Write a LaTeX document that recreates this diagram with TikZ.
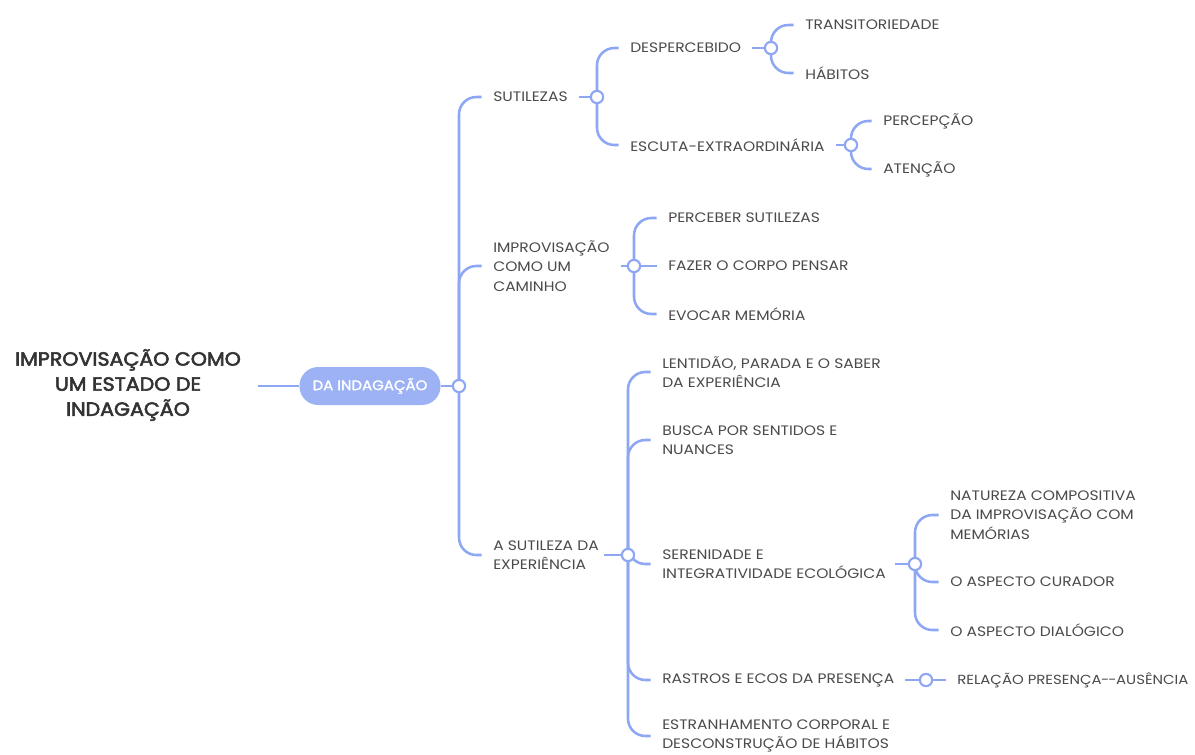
\documentclass[tikz,border=0pt]{standalone}
\usepackage{fontspec}
\setmainfont{Poppins}[FakeStretch=1.13]
\newfontfamily\rootf{Poppins}[FakeStretch=1.08,FakeBold=3]
\newfontfamily\pillf{Poppins}[FakeStretch=1.08,FakeBold=1.5]
\definecolor{ln}{HTML}{8EA7F4}
\definecolor{pillc}{HTML}{9DB2F5}
\definecolor{tx}{HTML}{4A4A4A}
\definecolor{rt}{HTML}{333333}
\begin{document}
\begin{tikzpicture}[x=0.75pt,y=-0.75pt,
 conn/.style={draw=ln,line width=1.9pt,rounded corners=13pt},
 cend/.style={shorten >=8.5pt},
 hub/.style={circle,draw=ln,fill=white,line width=1.6pt,minimum size=9.2pt,inner sep=0pt},
 leaf/.style={anchor=west,inner sep=0pt,text=tx,font=\fontsize{10.3}{14.6}\selectfont,align=left},
]
\useasboundingbox (0,0) rectangle (1195,754);
% root and pill
\node[inner sep=0pt,align=center,text=rt,font=\fontsize{14.3}{18.8}\selectfont\rootf] (root) at (128,385) {IMPROVISAÇÃO COMO\\UM ESTADO DE\\INDAGAÇÃO};
\node[fill=pillc,rounded corners=14pt,minimum width=105.75pt,minimum height=28.5pt,inner sep=0pt,text=white,font=\fontsize{10.4}{12}\selectfont\pillf] (pill) at (370,386) {DA INDAGAÇÃO};
% hubs
\coordinate (h0) at (459,386);
\coordinate (h1) at (597,97);
\coordinate (h2) at (771,48);
\coordinate (h3) at (851,145);
\coordinate (h4) at (634,266);
\coordinate (h5) at (628,555);
\coordinate (h6) at (915,564);
\coordinate (h7) at (926,680);
% texts
\node[leaf] (sut) at (493,97) {SUTILEZAS};
\node[leaf] (desp) at (630,48) {DESPERCEBIDO};
\node[leaf] (trans) at (805,25) {TRANSITORIEDADE};
\node[leaf] (hab) at (805,73) {HÁBITOS};
\node[leaf] (esc) at (630,145) {ESCUTA-EXTRAORDINÁRIA};
\node[leaf] (perc) at (883,121) {PERCEPÇÃO};
\node[leaf] (aten) at (883,169) {ATENÇÃO};
\node[leaf] (imp) at (493,266) {IMPROVISAÇÃO\\COMO UM\\CAMINHO};
\node[leaf] (pcs) at (668,218) {PERCEBER SUTILEZAS};
\node[leaf] (faz) at (668,266) {FAZER O CORPO PENSAR};
\node[leaf] (evo) at (668,314) {EVOCAR MEMÓRIA};
\node[leaf] (asu) at (493,555) {A SUTILEZA DA\\EXPERIÊNCIA};
\node[leaf] (len) at (662,372) {LENTIDÃO, PARADA E O SABER\\DA EXPERIÊNCIA};
\node[leaf] (bus) at (662,440) {BUSCA POR SENTIDOS E\\NUANCES};
\node[leaf] (ser) at (662,564) {SERENIDADE E\\INTEGRATIVIDADE ECOLÓGICA};
\node[leaf] (ras) at (662,680) {RASTROS E ECOS DA PRESENÇA};
\node[leaf] (est) at (662,736) {ESTRANHAMENTO CORPORAL E\\DESCONSTRUÇÃO DE HÁBITOS};
\node[leaf] (nat) at (950,515) {NATUREZA COMPOSITIVA\\DA IMPROVISAÇÃO COM\\MEMÓRIAS};
\node[leaf] (cur) at (950,582) {O ASPECTO CURADOR};
\node[leaf] (dia) at (950,630) {O ASPECTO DIALÓGICO};
\node[leaf,font=\fontsize{9.9}{14.6}\selectfont] (rel) at (957,680) {RELAÇÃO PRESENÇA\kern-0.3pt-\kern-0.8pt-\kern-0.3pt AUSÊNCIA};
% parent to hub lines
\draw[conn,shorten <=12.5pt] (root.east |- pill.west) -- (pill.west);
\draw[conn] (pill.east) -- (h0);
\draw[conn,shorten <=8pt] (sut.east) -- (h1);
\draw[conn,shorten <=8pt] (desp.east) -- (h2);
\draw[conn,shorten <=8pt] (esc.east) -- (h3);
\draw[conn,shorten <=8pt] (imp.east) -- (h4);
\draw[conn,shorten <=4pt] (asu.east) -- (h5);
\draw[conn,shorten <=7pt] (ser.east) -- (h6);
\draw[conn,shorten <=8pt] (ras.east) -- (h7);
% hub to children
\foreach \h/\c in {h0/sut,h0/imp,h0/asu,h1/desp,h1/esc,h2/trans,h2/hab,h3/perc,h3/aten,h4/pcs,h4/evo,h5/len,h5/bus,h5/ser,h5/ras,h5/est,h6/nat,h6/cur,h6/dia}
  \draw[conn,cend] (\h) |- (\c.west);
\draw[conn,cend] (h4) -- (faz.west);
\draw[conn,cend] (h7) -- (rel.west);
% hub circles on top
\foreach \h in {h0,h1,h2,h3,h4,h5,h6,h7}
  \node[hub] at (\h) {};
\end{tikzpicture}
\end{document}
